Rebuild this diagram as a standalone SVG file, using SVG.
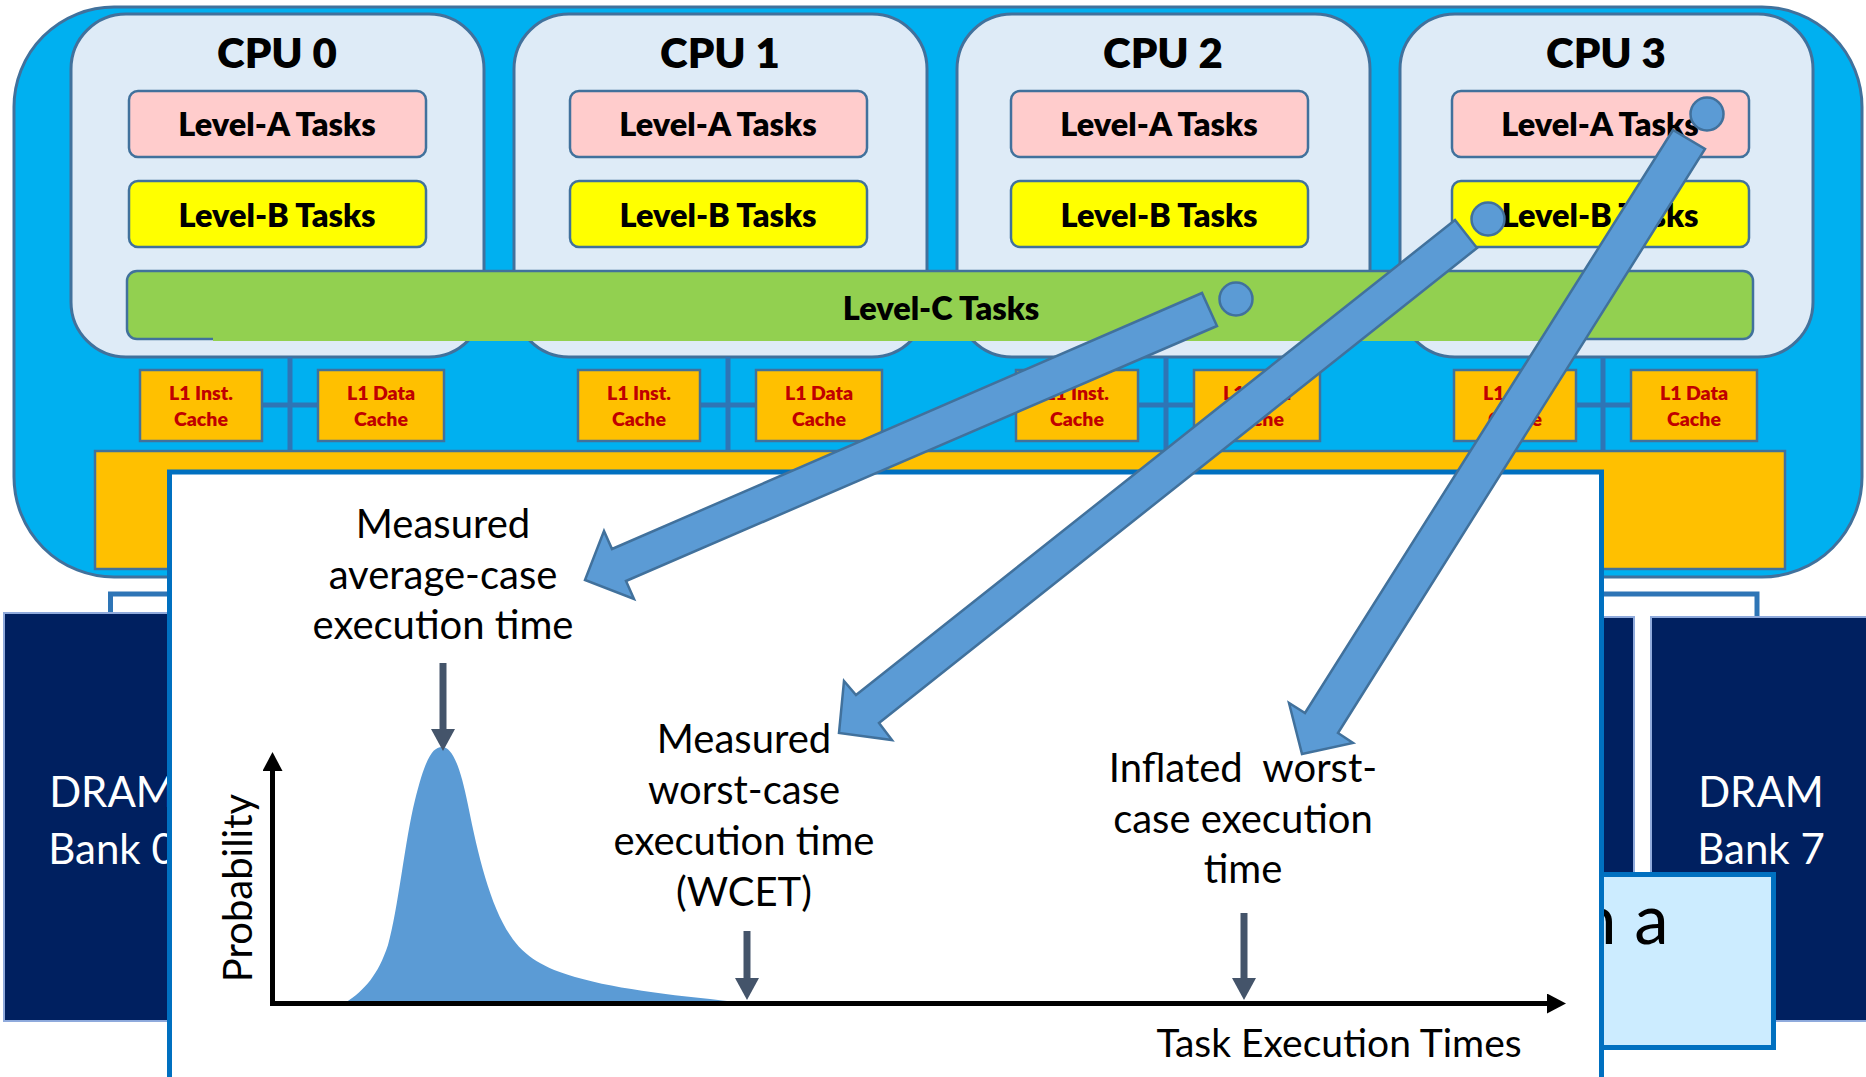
<svg xmlns="http://www.w3.org/2000/svg" width="1866" height="1077" viewBox="0 0 1866 1077">
<style>
.cpu{fill:#DEEBF7;stroke:#41719C;stroke-width:3}
.la{fill:#FFCCCC;stroke:#41719C;stroke-width:2.5}
.lb{fill:#FFFF00;stroke:#41719C;stroke-width:2.5}
.lc{fill:#92D050;stroke:#41719C;stroke-width:2.5}
.cache{fill:#FFC000;stroke:#41719C;stroke-width:2.5}
.bus{stroke:#2E75B6;stroke-width:5;fill:none}
.dram{fill:#002060;stroke:#8FAADC;stroke-width:2}
.t-title{font-family:Lato,"Liberation Sans",sans-serif;font-weight:800;font-size:42px;fill:#000;text-anchor:middle}
.t-task{font-family:Lato,"Liberation Sans",sans-serif;font-weight:800;font-size:32.5px;fill:#000;text-anchor:middle}
.t-cache{font-family:Lato,"Liberation Sans",sans-serif;font-weight:800;font-size:19.5px;fill:#C00000;text-anchor:middle}
.t-dram{font-family:Lato,"Liberation Sans",sans-serif;font-size:42px;fill:#fff;text-anchor:middle}
.t-lbl{font-family:Lato,"Liberation Sans",sans-serif;font-size:40px;fill:#000;text-anchor:middle}
.big{fill:#5B9BD5;stroke:#41719C;stroke-width:2.5;stroke-linejoin:miter}
.dot{fill:#5B9BD5;stroke:#41719C;stroke-width:2.5}
.down{stroke:#44546A;stroke-width:7;fill:none}
.axis{stroke:#000;stroke-width:5;fill:none}
</style>
<defs>
<marker id="hd" markerUnits="userSpaceOnUse" markerWidth="22" markerHeight="24" refX="1" refY="12" orient="auto" viewBox="0 0 22 24"><path d="M0,0 L22,12 L0,24 Z" fill="#44546A"/></marker>
<marker id="ha" markerUnits="userSpaceOnUse" markerWidth="19" markerHeight="20" refX="1" refY="10" orient="auto" viewBox="0 0 19 20"><path d="M0,0 L19,10 L0,20 Z" fill="#000"/></marker>
</defs>
<rect width="1866" height="1077" fill="#fff"/>

<g id="chip">
<rect x="14" y="7" width="1848" height="570" rx="100" ry="100" fill="#00B0F0" stroke="#41719C" stroke-width="3"/>
</g>

<g id="cpu0">
<rect class="cpu" x="71" y="14" width="413" height="343" rx="55"/>
<text class="t-title" x="277" y="68">CPU 0</text>
<rect class="la" x="129" y="91" width="297" height="66" rx="9"/>
<text class="t-task" x="277" y="136">Level-A Tasks</text>
<rect class="lb" x="129" y="181" width="297" height="66" rx="9"/>
<text class="t-task" x="277" y="227">Level-B Tasks</text>
</g>
<g id="cpu1">
<rect class="cpu" x="514" y="14" width="413" height="343" rx="55"/>
<text class="t-title" x="720" y="68">CPU 1</text>
<rect class="la" x="570" y="91" width="297" height="66" rx="9"/>
<text class="t-task" x="718" y="136">Level-A Tasks</text>
<rect class="lb" x="570" y="181" width="297" height="66" rx="9"/>
<text class="t-task" x="718" y="227">Level-B Tasks</text>
</g>
<g id="cpu2">
<rect class="cpu" x="957" y="14" width="413" height="343" rx="55"/>
<text class="t-title" x="1163" y="68">CPU 2</text>
<rect class="la" x="1011" y="91" width="297" height="66" rx="9"/>
<text class="t-task" x="1159" y="136">Level-A Tasks</text>
<rect class="lb" x="1011" y="181" width="297" height="66" rx="9"/>
<text class="t-task" x="1159" y="227">Level-B Tasks</text>
</g>
<g id="cpu3">
<rect class="cpu" x="1400" y="14" width="413" height="343" rx="55"/>
<text class="t-title" x="1606" y="68">CPU 3</text>
<rect class="la" x="1452" y="91" width="297" height="66" rx="9"/>
<text class="t-task" x="1600" y="136">Level-A Tasks</text>
<rect class="lb" x="1452" y="181" width="297" height="66" rx="9"/>
<text class="t-task" x="1600" y="227">Level-B Tasks</text>
</g>

<g id="level-c">
<rect class="lc" x="127" y="271" width="1626" height="68" rx="10"/>
<rect x="213" y="336" width="1364" height="5" fill="#92D050"/>
<text class="t-task" x="941" y="320">Level-C Tasks</text>
</g>

<g id="l1-bus">
<path class="bus" d="M290,357 V451 M262,405 H318 M728,357 V451 M700,405 H756 M1166,357 V451 M1138,405 H1194 M1603,357 V451 M1576,405 H1631"/>
</g>

<g id="l1-cpu0">
<rect class="cache" x="140" y="370" width="122" height="71"/>
<text class="t-cache" x="201" y="400">L1 Inst.</text><text class="t-cache" x="201" y="426">Cache</text>
<rect class="cache" x="318" y="370" width="126" height="71"/>
<text class="t-cache" x="381" y="400">L1 Data</text><text class="t-cache" x="381" y="426">Cache</text>
</g>
<g id="l1-cpu1">
<rect class="cache" x="578" y="370" width="122" height="71"/>
<text class="t-cache" x="639" y="400">L1 Inst.</text><text class="t-cache" x="639" y="426">Cache</text>
<rect class="cache" x="756" y="370" width="126" height="71"/>
<text class="t-cache" x="819" y="400">L1 Data</text><text class="t-cache" x="819" y="426">Cache</text>
</g>
<g id="l1-cpu2">
<rect class="cache" x="1016" y="370" width="122" height="71"/>
<text class="t-cache" x="1077" y="400">L1 Inst.</text><text class="t-cache" x="1077" y="426">Cache</text>
<rect class="cache" x="1194" y="370" width="126" height="71"/>
<text class="t-cache" x="1257" y="400">L1 Data</text><text class="t-cache" x="1257" y="426">Cache</text>
</g>
<g id="l1-cpu3">
<rect class="cache" x="1454" y="370" width="122" height="71"/>
<text class="t-cache" x="1515" y="400">L1 Inst.</text><text class="t-cache" x="1515" y="426">Cache</text>
<rect class="cache" x="1631" y="370" width="126" height="71"/>
<text class="t-cache" x="1694" y="400">L1 Data</text><text class="t-cache" x="1694" y="426">Cache</text>
</g>

<g id="l2">
<rect class="cache" x="95" y="451" width="1690" height="118"/>
</g>

<g id="mem-bus">
<rect x="110.5" y="594" width="1646.5" height="290" fill="#fff" stroke="#2E75B6" stroke-width="5"/>
</g>
<g id="dram0">
<rect class="dram" x="4" y="613" width="216" height="408"/>
<text class="t-dram" x="112" y="807">DRAM</text>
<text class="t-dram" x="112" y="864">Bank 0</text>
</g>
<g id="dram6">
<rect class="dram" x="1420" y="617" width="214" height="404"/>
</g>
<g id="dram7">
<rect class="dram" x="1651" y="617" width="216" height="404"/>
<text class="t-dram" x="1761" y="807">DRAM</text>
<text class="t-dram" x="1761" y="864">Bank 7</text>
</g>
<g id="note">
<rect x="1560" y="874.5" width="213.5" height="173" fill="#CCECFF" stroke="#0070C0" stroke-width="5"/>
<text x="1578" y="944" font-family="Lato,'Liberation Sans',sans-serif" font-size="69" fill="#000">n a</text>
</g>

<g id="chart">
<rect x="169.5" y="472" width="1432" height="630" fill="#fff" stroke="#0070C0" stroke-width="5"/>
<path d="M345,1003 C365,990 378,975 388,945 C398,910 405,840 415,800 C425,760 432,747 442,747 C452,747 460,765 468,805 C478,855 490,905 510,935 C525,958 545,968 575,977 C620,990 680,996 747,1003 Z" fill="#5B9BD5"/>
<line class="axis" x1="272.5" y1="1006" x2="272.5" y2="770" marker-end="url(#ha)"/>
<line class="axis" x1="270" y1="1003.5" x2="1548" y2="1003.5" marker-end="url(#ha)"/>
<text class="t-lbl" transform="translate(252,888) rotate(-90)">Probability</text>
<text class="t-lbl" x="1339" y="1057" style="font-size:39px">Task Execution Times</text>
<text class="t-lbl" x="443" y="538">Measured</text>
<text class="t-lbl" x="443" y="589">average-case</text>
<text class="t-lbl" x="443" y="639">execution time</text>
<text class="t-lbl" x="744" y="753">Measured</text>
<text class="t-lbl" x="744" y="804">worst-case</text>
<text class="t-lbl" x="744" y="855">execution time</text>
<text class="t-lbl" x="744" y="906">(WCET)</text>
<text class="t-lbl" x="1243" y="782" style="white-space:pre">Inflated  worst-</text>
<text class="t-lbl" x="1243" y="833">case execution</text>
<text class="t-lbl" x="1243" y="883">time</text>
</g>

<g id="connectors">
<line class="down" x1="443" y1="663" x2="443" y2="730" marker-end="url(#hd)"/>
<line class="down" x1="747" y1="931" x2="747" y2="979" marker-end="url(#hd)"/>
<line class="down" x1="1244" y1="913" x2="1244" y2="979" marker-end="url(#hd)"/>
<polygon class="big" points="1202,293 612,549 604,531 585,580 634,599 626,581 1217,326"/>
<polygon class="big" points="1455,220 856,695 844,681 839,733 892,740 879,723 1477,248"/>
<polygon class="big" points="1673,130 1305,713 1289,703 1302,754 1353,743 1338,733 1705,149"/>
<circle class="dot" cx="1236" cy="299" r="16.5"/>
<circle class="dot" cx="1488" cy="219" r="16.5"/>
<circle class="dot" cx="1707" cy="114" r="16.5"/>
</g>
</svg>
